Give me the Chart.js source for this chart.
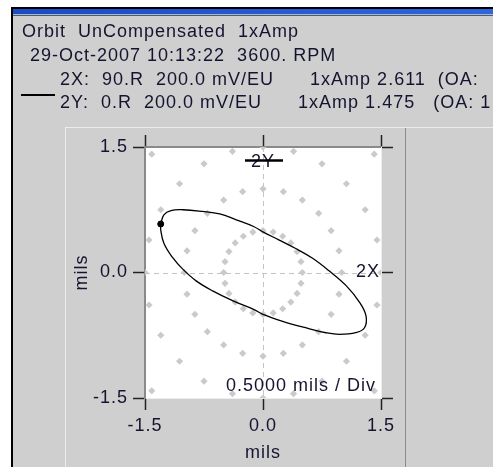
<!DOCTYPE html>
<html>
<head>
<meta charset="utf-8">
<script src="https://cdn.jsdelivr.net/npm/chart.js@4.4.1/dist/chart.umd.min.js"></script>
<style>
  html, body { margin: 0; padding: 0; background: #ffffff; overflow: hidden; }
  canvas { display: block; }
</style>
</head>
<body>
<canvas id="orbit" width="493" height="467"></canvas>
<script>
// Filtered 1x orbit, mils (X = 2X probe, Y = 2Y probe), starting at the keyphasor mark
const orbitX = [-1.30, -1.26, -1.17, -1.02, -0.77, -0.55, -0.34, -0.12, 0.01, 0.20, 0.41, 0.63,
                0.84, 1.06, 1.23, 1.31, 1.29, 1.18, 0.97, 0.80, 0.54, 0.24, 0.00, -0.12,
                -0.38, -0.64, -0.85, -1.02, -1.15, -1.26, -1.30, -1.30];
const orbitY = [0.58, 0.69, 0.74, 0.75, 0.73, 0.70, 0.63, 0.55, 0.48, 0.39, 0.29, 0.17,
                0.02, -0.16, -0.36, -0.52, -0.66, -0.72, -0.74, -0.72, -0.66, -0.58, -0.50, -0.44,
                -0.34, -0.22, -0.10, 0.04, 0.18, 0.35, 0.51, 0.58];
const keyphasorX = [-1.30];
const keyphasorY = [0.58];

// Axis ticks (mils) and the polar reference rings
const axisTicks = [-1.5, 0.0, 1.5];
const axisMin = -1.5;
const axisMax = 1.5;
const ringRadii = [0.5, 1.0, 1.5, 2.0];
const ringStepDeg = 15;

// Header text
const headerLines = [
  'Orbit  UnCompensated  1xAmp',
  '29-Oct-2007 10:13:22  3600. RPM',
  '2X:  90.R  200.0 mV/EU      1xAmp 2.611  (OA:',
  '2Y:  0.R  200.0 mV/EU      1xAmp 1.475   (OA: 1'
];
const xProbeLabel = '2X';
const yProbeLabel = '2Y';
const scaleNote = '0.5000 mils / Div';
const axisTitle = 'mils';

const FONT = '"Liberation Sans", Arial, sans-serif';
const TEXT = '#141430';
const PANEL = '#cfcfcf';

const ringPoints = [];
for (const r of ringRadii) {
  for (let a = 0; a < 360; a += ringStepDeg) {
    const t = a * Math.PI / 180;
    ringPoints.push({ x: r * Math.cos(t), y: r * Math.sin(t) });
  }
}
const orbitPoints = orbitX.map((x, i) => ({ x, y: orbitY[i] }));
const keyPoints = keyphasorX.map((x, i) => ({ x, y: keyphasorY[i] }));

// Window chrome, header and plot background
const chromePlugin = {
  id: 'chrome',
  beforeDraw(chart) {
    const ctx = chart.ctx;
    const W = chart.width, H = chart.height;
    ctx.save();
    ctx.fillStyle = '#ffffff';
    ctx.fillRect(0, 0, W, H);
    ctx.fillStyle = PANEL;
    ctx.fillRect(12, 8, W - 12, H - 8);
    // title bar
    ctx.fillStyle = '#000000';
    ctx.fillRect(11, 7, W - 11, 2);
    const g = ctx.createLinearGradient(12, 0, W, 0);
    g.addColorStop(0, '#1a4cc4');
    g.addColorStop(1, '#2f66dc');
    ctx.fillStyle = g;
    ctx.fillRect(13, 9, W - 13, 5);
    ctx.fillStyle = '#9fb8e8';
    ctx.fillRect(13, 14, W - 13, 1);
    ctx.fillStyle = '#5a5a5a';
    ctx.fillRect(13, 15, W - 13, 1);
    // outer left frame
    ctx.fillStyle = '#000000';
    ctx.fillRect(11, 7, 2, H - 7);
    // inner panel separators
    ctx.fillStyle = '#ececec';
    ctx.fillRect(65, 127, W - 65, 1);
    ctx.fillRect(65, 127, 1, H - 127);
    ctx.fillStyle = '#8c8c8c';
    ctx.fillRect(405, 128, 1, H - 128);
    // header text
    ctx.letterSpacing = '1px';
    ctx.fillStyle = TEXT;
    ctx.font = '18px ' + FONT;
    ctx.textBaseline = 'alphabetic';
    ctx.textAlign = 'left';
    ctx.fillText(headerLines[0], 22, 37);
    ctx.fillText(headerLines[1], 30, 61);
    ctx.fillText(headerLines[2], 60, 85);
    ctx.fillText(headerLines[3], 60, 108);
    // legend swatch
    ctx.strokeStyle = '#000000';
    ctx.lineWidth = 2;
    ctx.beginPath();
    ctx.moveTo(21, 95);
    ctx.lineTo(55, 95);
    ctx.stroke();
    // plot background
    const a = chart.chartArea;
    ctx.fillStyle = '#ffffff';
    ctx.fillRect(a.left, a.top, a.right - a.left, a.bottom - a.top);
    ctx.restore();
    chart.ctx.letterSpacing = '1px';
  },
  beforeDatasetsDraw(chart) {
    const ctx = chart.ctx;
    const a = chart.chartArea;
    const x0 = chart.scales.x.getPixelForValue(0);
    const y0 = chart.scales.y.getPixelForValue(0);
    ctx.save();
    ctx.strokeStyle = '#c4c4c4';
    ctx.lineWidth = 1;
    ctx.setLineDash([5, 4]);
    ctx.beginPath();
    ctx.moveTo(Math.round(x0) + 0.5, a.top);
    ctx.lineTo(Math.round(x0) + 0.5, a.bottom);
    ctx.moveTo(a.left, Math.round(y0) + 0.5);
    ctx.lineTo(a.right, Math.round(y0) + 0.5);
    ctx.stroke();
    ctx.restore();
  },
  afterDatasetsDraw(chart) {
    const ctx = chart.ctx;
    const a = chart.chartArea;
    const xs = chart.scales.x, ys = chart.scales.y;
    const x0 = xs.getPixelForValue(0);
    const y0 = ys.getPixelForValue(0);
    ctx.save();
    ctx.letterSpacing = '1px';
    ctx.font = '18px ' + FONT;
    ctx.fillStyle = TEXT;
    // 2Y probe label with its orientation bar
    ctx.textAlign = 'center';
    ctx.textBaseline = 'middle';
    ctx.fillText(yProbeLabel, x0, a.top + 15);
    ctx.strokeStyle = '#000000';
    ctx.lineWidth = 2.5;
    ctx.beginPath();
    ctx.moveTo(x0 - 18, a.top + 13.5);
    ctx.lineTo(x0 + 20, a.top + 13.5);
    ctx.stroke();
    // 2X probe label
    ctx.textAlign = 'right';
    ctx.fillText(xProbeLabel, a.right - 1, y0);
    // scale note
    ctx.textBaseline = 'alphabetic';
    ctx.fillText(scaleNote, a.right - 5, a.bottom - 7);
    ctx.restore();
  }
};

const tickFont = { family: FONT, size: 18 };
const tickGrid = { drawOnChartArea: false, drawTicks: true, tickLength: 12, tickColor: '#222222', tickWidth: 1.5 };
const setTicks = s => { s.ticks = axisTicks.map(v => ({ value: v })); };

new Chart(document.getElementById('orbit'), {
  type: 'scatter',
  data: {
    datasets: [
      { label: 'keyphasor', data: keyPoints, pointStyle: 'circle', pointRadius: 3,
        backgroundColor: '#000000', borderColor: '#000000', showLine: false },
      { label: 'orbit', data: orbitPoints, showLine: true, tension: 0.4, pointRadius: 0,
        borderColor: '#000000', borderWidth: 1.3, fill: false },
      { label: 'rings', data: ringPoints, pointStyle: 'rectRot', pointRadius: 3.6,
        backgroundColor: '#cacaca', borderWidth: 0, showLine: false }
    ]
  },
  options: {
    responsive: false,
    animation: false,
    devicePixelRatio: 1,
    layout: { padding: { left: 67, right: 99, top: 135, bottom: 0 } },
    plugins: { legend: { display: false }, tooltip: { enabled: false } },
    scales: {
      x: {
        type: 'linear', position: 'bottom', min: axisMin, max: axisMax,
        afterBuildTicks: setTicks,
        afterFit: s => { s.height = 69; },
        ticks: { font: tickFont, color: TEXT, padding: 5, callback: v => Number(v).toFixed(1) },
        grid: tickGrid,
        border: { color: '#ededed', width: 1 },
        title: { display: true, text: axisTitle, font: tickFont, color: TEXT, padding: { top: 4, bottom: 3 } }
      },
      y: {
        type: 'linear', position: 'left', min: axisMin, max: axisMax,
        afterBuildTicks: setTicks,
        afterFit: s => { s.width = 78; },
        ticks: { font: tickFont, color: TEXT, padding: 5, callback: v => Number(v).toFixed(1) },
        grid: tickGrid,
        border: { color: '#8a8a8a', width: 2 },
        title: { display: true, text: axisTitle, font: tickFont, color: TEXT, padding: 4 }
      },
      x2: {
        type: 'linear', position: 'top', min: axisMin, max: axisMax,
        afterBuildTicks: setTicks,
        afterFit: s => { s.height = 12; },
        ticks: { display: false },
        grid: tickGrid,
        border: { color: '#8a8a8a', width: 2 }
      },
      y2: {
        type: 'linear', position: 'right', min: axisMin, max: axisMax,
        afterBuildTicks: setTicks,
        afterFit: s => { s.width = 13; },
        ticks: { display: false },
        grid: tickGrid,
        border: { color: '#ededed', width: 1 }
      }
    }
  },
  plugins: [chromePlugin]
});
</script>
</body>
</html>
